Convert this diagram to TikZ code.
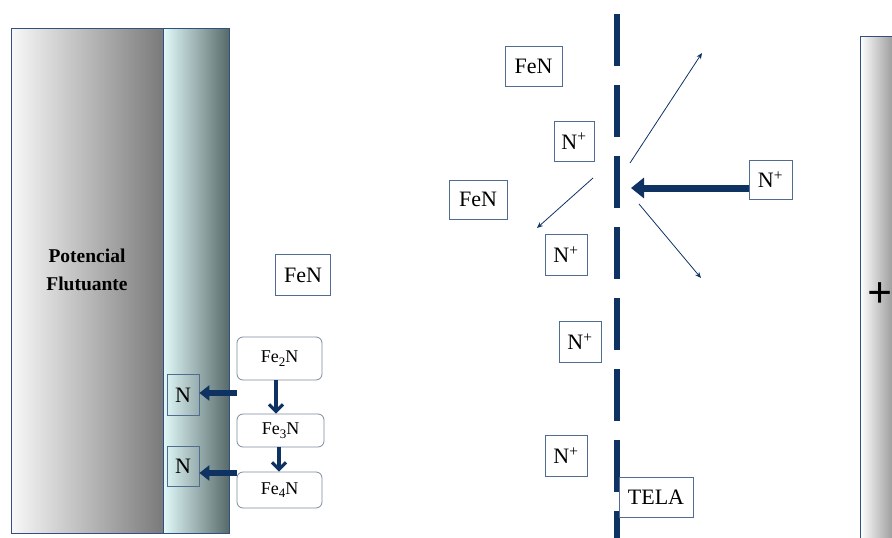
\documentclass[tikz,border=0pt]{standalone}
\usepackage{fontspec}
\setmainfont{Liberation Serif}
\usetikzlibrary{arrows.meta}
\definecolor{navy}{RGB}{14,50,98}
\definecolor{boxline}{RGB}{80,108,145}
\definecolor{roundline}{RGB}{125,138,160}
\definecolor{blockline}{RGB}{50,80,125}
\definecolor{grayL}{RGB}{248,248,248}
\definecolor{grayD}{RGB}{122,122,122}
\definecolor{cyanL}{RGB}{226,250,250}
\definecolor{cyanD}{RGB}{88,106,106}
\newcommand{\lowsub}[1]{\raisebox{-0.45ex}{\fontsize{13}{14}\selectfont #1}}
\tikzset{
  lbl/.style={draw=boxline, line width=0.8pt, fill=white, inner sep=0pt,
    font=\fontsize{22}{24}\selectfont},
  nbox/.style={draw=boxline, line width=0.8pt, inner sep=0pt,
    font=\fontsize{22}{24}\selectfont},
  rbox/.style={draw=roundline, line width=0.8pt, fill=white, rounded corners=6pt,
    inner sep=0pt, font=\fontsize{18}{20}\selectfont},
  thinarr/.style={draw=navy, line width=0.8pt, -{Stealth[length=6pt,width=5pt]}},
  fatarr/.style={draw=navy, line width=7pt, -{Triangle[length=13pt,width=20pt]}},
  midarr/.style={draw=navy, line width=5.5pt, -{Triangle[length=10pt,width=15pt]}},
  downarr/.style={draw=navy, line width=3.2pt, -{Straight Barb[length=7pt,width=14pt]}},
  tela/.style={draw=navy, line width=6pt, dash pattern=on 52pt off 19pt},
}
\begin{document}
\begin{tikzpicture}[x=1pt,y=-1pt]
\useasboundingbox (0,0) rectangle (892,538);
% left block
\shade[left color=grayL, right color=grayD] (11,28) rectangle (163,533);
\shade[left color=cyanL, right color=cyanD] (163,28) rectangle (229,533);
\draw[blockline, line width=0.8pt] (11,28) rectangle (229,533);
\draw[blockline, line width=0.8pt] (163,28) -- (163,533);
\node[align=center, font=\bfseries\fontsize{19.5}{28}\selectfont] (pot) at (87,270) {Potencial\\Flutuante};
% right plate
\shade[left color=white, right color=gray!75] (860,36) rectangle (892,538);
\draw[blockline, line width=0.8pt] (892,36) -- (860,36) -- (860,538);
\node[font=\bfseries\fontsize{44}{46}\selectfont] (plus) at (880,295) {+};
% screen
\coordinate (tTop) at (617,14);
\coordinate (tBot) at (617,538);
\draw[tela] (tTop) -- (tBot);
% left nodes
\node[nbox, minimum width=32pt, minimum height=41pt] (nA) at (183,395) {N};
\node[nbox, minimum width=32pt, minimum height=40pt] (nB) at (183,466) {N};
\node[rbox, minimum width=85pt, minimum height=43pt] (fe2) at (279.5,358.5) {Fe\lowsub{2}N};
\node[rbox, minimum width=87pt, minimum height=33pt] (fe3) at (280.5,430.5) {Fe\lowsub{3}N};
\node[rbox, minimum width=85pt, minimum height=36pt] (fe4) at (279.5,490) {Fe\lowsub{4}N};
\node[lbl, minimum width=55pt, minimum height=41pt] (feM) at (303,275) {FeN};
% right nodes
\node[lbl, minimum width=57pt, minimum height=40pt] (feT) at (533.5,66) {FeN};
\node[lbl, minimum width=40pt, minimum height=40pt] (np1) at (574,141) {N\textsuperscript{+}};
\node[lbl, minimum width=58pt, minimum height=39pt] (feL) at (478,199.5) {FeN};
\node[lbl, minimum width=42pt, minimum height=41pt] (np2) at (566,254.5) {N\textsuperscript{+}};
\node[lbl, minimum width=43pt, minimum height=39pt] (npR) at (770.5,179.5) {N\textsuperscript{+}};
\node[lbl, minimum width=42pt, minimum height=41pt] (np3) at (580,341.5) {N\textsuperscript{+}};
\node[lbl, minimum width=42pt, minimum height=41pt] (np4) at (566,455.5) {N\textsuperscript{+}};
\node[lbl, minimum width=74pt, minimum height=40pt] (tl) at (656,497) {TELA};
% connectors left
\coordinate (a1) at (237,393);
\coordinate (a2) at (237,473);
\draw[midarr] (a1) -- (a1 -| nA.east);
\draw[midarr] (a2) -- (a2 -| nB.east);
\coordinate (d1) at (276,0);
\coordinate (d2) at (279,0);
\draw[downarr] (d1 |- fe2.south) -- (d1 |- fe3.north);
\draw[downarr] (d2 |- fe3.south) -- (d2 |- fe4.north);
% connectors right
\coordinate (tipR) at (631,188);
\draw[fatarr] (tipR -| npR.west) -- (tipR);
\coordinate (s1) at (630,163);
\coordinate (e1) at (702,53);
\coordinate (s2) at (593,178);
\coordinate (e2) at (537,228);
\coordinate (s3) at (639,204);
\coordinate (e3) at (701,278);
\draw[thinarr] (s1) -- (e1);
\draw[thinarr] (s2) -- (e2);
\draw[thinarr] (s3) -- (e3);
\end{tikzpicture}
\end{document}
